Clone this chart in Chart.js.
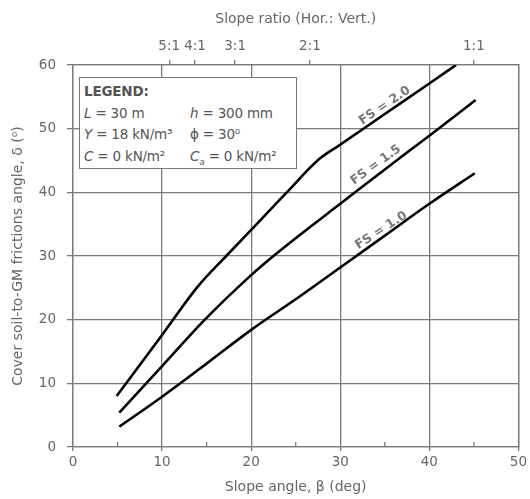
<!DOCTYPE html>
<html>
<head>
<meta charset="utf-8">
<script src="https://cdn.jsdelivr.net/npm/chart.js@4"></script>
<style>
  html, body { margin: 0; padding: 0; background: #fff; }
  #wrap { position: relative; width: 530px; height: 499px; }
  #legend-box {
    position: absolute; left: 79px; top: 77px; width: 218px; height: 92px;
    border: 1.5px solid #777; background: #fff; color: #555;
    font-family: "DejaVu Sans", sans-serif; font-size: 13.5px; line-height: 21.5px;
    padding: 3px 0 0 4px; box-sizing: border-box; letter-spacing: -0.2px;
  }
  #legend-box .row { display: flex; white-space: nowrap; }
  #legend-box .c1 { width: 106px; }
  #legend-box b { font-weight: 700; }
</style>
</head>
<body>
<div id="wrap">
  <canvas id="chart" width="530" height="499"></canvas>
  <div id="legend-box">
    <div class="row"><b>LEGEND:</b></div>
    <div class="row"><span class="c1"><i>L</i> = 30 m</span><span><i>h</i> = 300 mm</span></div>
    <div class="row"><span class="c1"><i>Y</i> = 18 kN/m³</span><span>ϕ = 30⁰</span></div>
    <div class="row"><span class="c1"><i>C</i> = 0 kN/m²</span><span><i>C<sub style="font-size:9px">a</sub></i> = 0 kN/m²</span></div>
  </div>
</div>
<script>
/* global Chart */

// ---- data ------------------------------------------------------------------
const fs10X = [5.2, 10, 15, 20, 25.4, 30, 35, 40, 45.1];
const fs10Y = [3.2, 7.9, 13.1, 18.4, 23.6, 28.2, 33.2, 38.2, 43];

const fs15X = [5.2, 10, 14.8, 20, 22.5, 25, 30, 35, 40, 45.2];
const fs15Y = [5.4, 12.7, 20, 27, 30, 32.8, 38.2, 43.6, 48.9, 54.5];

const fs20X = [4.9, 10, 14, 17.2, 20, 24, 27.7, 30, 35, 40, 43];
const fs20Y = [8, 17.6, 25.2, 30, 34.1, 40, 45.3, 47.5, 52.3, 57.1, 60];

const xTicks = [0, 10, 20, 30, 40, 50];
const xMinorTicks = [5, 15, 25, 35, 45];
const yTicks = [0, 10, 20, 30, 40, 50, 60];

// slope ratio (Hor.:Vert.) marks, positions
const ratioLabels = ['5:1', '4:1', '3:1', '2:1', '1:1'];
const ratioAngles = [10.8, 13.7, 18.2, 26.6, 45];

const curveLabels = ['FS = 1.0', 'FS = 1.5', 'FS = 2.0'];
const curveLabelX = [34.6, 34.0, 35.0];
const curveLabelY = [34.0, 44.3, 53.6];
const curveLabelAngle = [-33, -36, -34];

// ---- helpers ---------------------------------------------------------------
const GRID = '#7a7a7a';
const TEXT = '#666';
const FONT = '"DejaVu Sans", sans-serif';

function pts(xs, ys) {
  return xs.map((x, i) => ({ x, y: ys[i] }));
}

function lineSet(xs, ys) {
  return {
    data: pts(xs, ys),
    borderColor: '#000',
    borderWidth: 2.6,
    pointRadius: 0,
    cubicInterpolationMode: 'monotone',
    fill: false,
  };
}

// minor ticks on the bottom axis, pointing into the plot
const minorTicks = {
  id: 'minorTicks',
  afterDraw(chart) {
    const { ctx, scales } = chart;
    const y0 = scales.y.getPixelForValue(0);
    ctx.save();
    ctx.strokeStyle = GRID;
    ctx.lineWidth = 1.3;
    xMinorTicks.forEach((v) => {
      const px = scales.x.getPixelForValue(v);
      ctx.beginPath();
      ctx.moveTo(px, y0);
      ctx.lineTo(px, y0 - 5);
      ctx.stroke();
    });
    ctx.restore();
  },
};

// rotated FS labels along the curves
const curveText = {
  id: 'curveText',
  afterDatasetsDraw(chart) {
    const { ctx, scales } = chart;
    ctx.save();
    ctx.fillStyle = '#777';
    ctx.font = `bold 12.5px ${FONT}`;
    ctx.textAlign = 'center';
    ctx.textBaseline = 'middle';
    curveLabels.forEach((t, i) => {
      ctx.save();
      ctx.translate(scales.x.getPixelForValue(curveLabelX[i]), scales.y.getPixelForValue(curveLabelY[i]));
      ctx.rotate((curveLabelAngle[i] * Math.PI) / 180);
      ctx.fillText(t, 0, 0);
      ctx.restore();
    });
    ctx.restore();
  },
};

Chart.defaults.font.family = FONT;
Chart.defaults.color = TEXT;

new Chart(document.getElementById('chart'), {
  type: 'line',
  data: {
    datasets: [lineSet(fs10X, fs10Y), lineSet(fs15X, fs15Y), lineSet(fs20X, fs20Y)],
  },
  options: {
    responsive: false,
    animation: false,
    layout: { padding: { left: 0, right: 11, top: 0, bottom: 0 } },
    plugins: { legend: { display: false }, tooltip: { enabled: false } },
    scales: {
      x: {
        type: 'linear',
        position: 'bottom',
        min: 0,
        max: 50,
        afterBuildTicks: (s) => { s.ticks = xTicks.map((v) => ({ value: v })); },
        afterFit: (s) => { s.height = 52; },
        ticks: { font: { size: 13.5 }, padding: 3, maxRotation: 0 },
        grid: { color: GRID, lineWidth: 1.3, tickLength: 4 },
        border: { color: GRID, width: 1.3 },
        title: { display: true, text: 'Slope angle, β (deg)', font: { size: 14 }, padding: { bottom: 3, top: 0 } },
      },
      x2: {
        type: 'linear',
        position: 'top',
        min: 0,
        max: 50,
        afterBuildTicks: (s) => { s.ticks = ratioAngles.map((v) => ({ value: v })); },
        afterFit: (s) => { s.height = 65; },
        ticks: {
          font: { size: 13.5 },
          padding: 5,
          autoSkip: false,
          maxRotation: 0,
          callback: (v, i) => ratioLabels[i],
        },
        grid: { drawOnChartArea: false, color: GRID, lineWidth: 1.3, tickLength: 5 },
        border: { color: GRID, width: 1.3 },
        title: { display: true, text: 'Slope ratio (Hor.: Vert.)', font: { size: 14 }, padding: { top: 11, bottom: 0 } },
      },
      y: {
        min: 0,
        max: 60,
        afterBuildTicks: (s) => { s.ticks = yTicks.map((v) => ({ value: v })); },
        afterFit: (s) => { s.width = 73; },
        ticks: { font: { size: 13.5 }, padding: 11 },
        grid: { color: GRID, lineWidth: 1.3, tickLength: 6 },
        border: { color: GRID, width: 1.3 },
        title: { display: true, text: 'Cover soil-to-GM frictions angle, δ (⁰)', font: { size: 14 }, padding: { top: 10, bottom: 0 } },
      },
      y2: {
        position: 'right',
        min: 0,
        max: 60,
        display: true,
        afterFit: (s) => { s.width = 0; },
        ticks: { display: false },
        grid: { drawOnChartArea: false, drawTicks: false },
        border: { color: GRID, width: 1.3 },
      },
    },
  },
  plugins: [minorTicks, curveText],
});
</script>
</body>
</html>
